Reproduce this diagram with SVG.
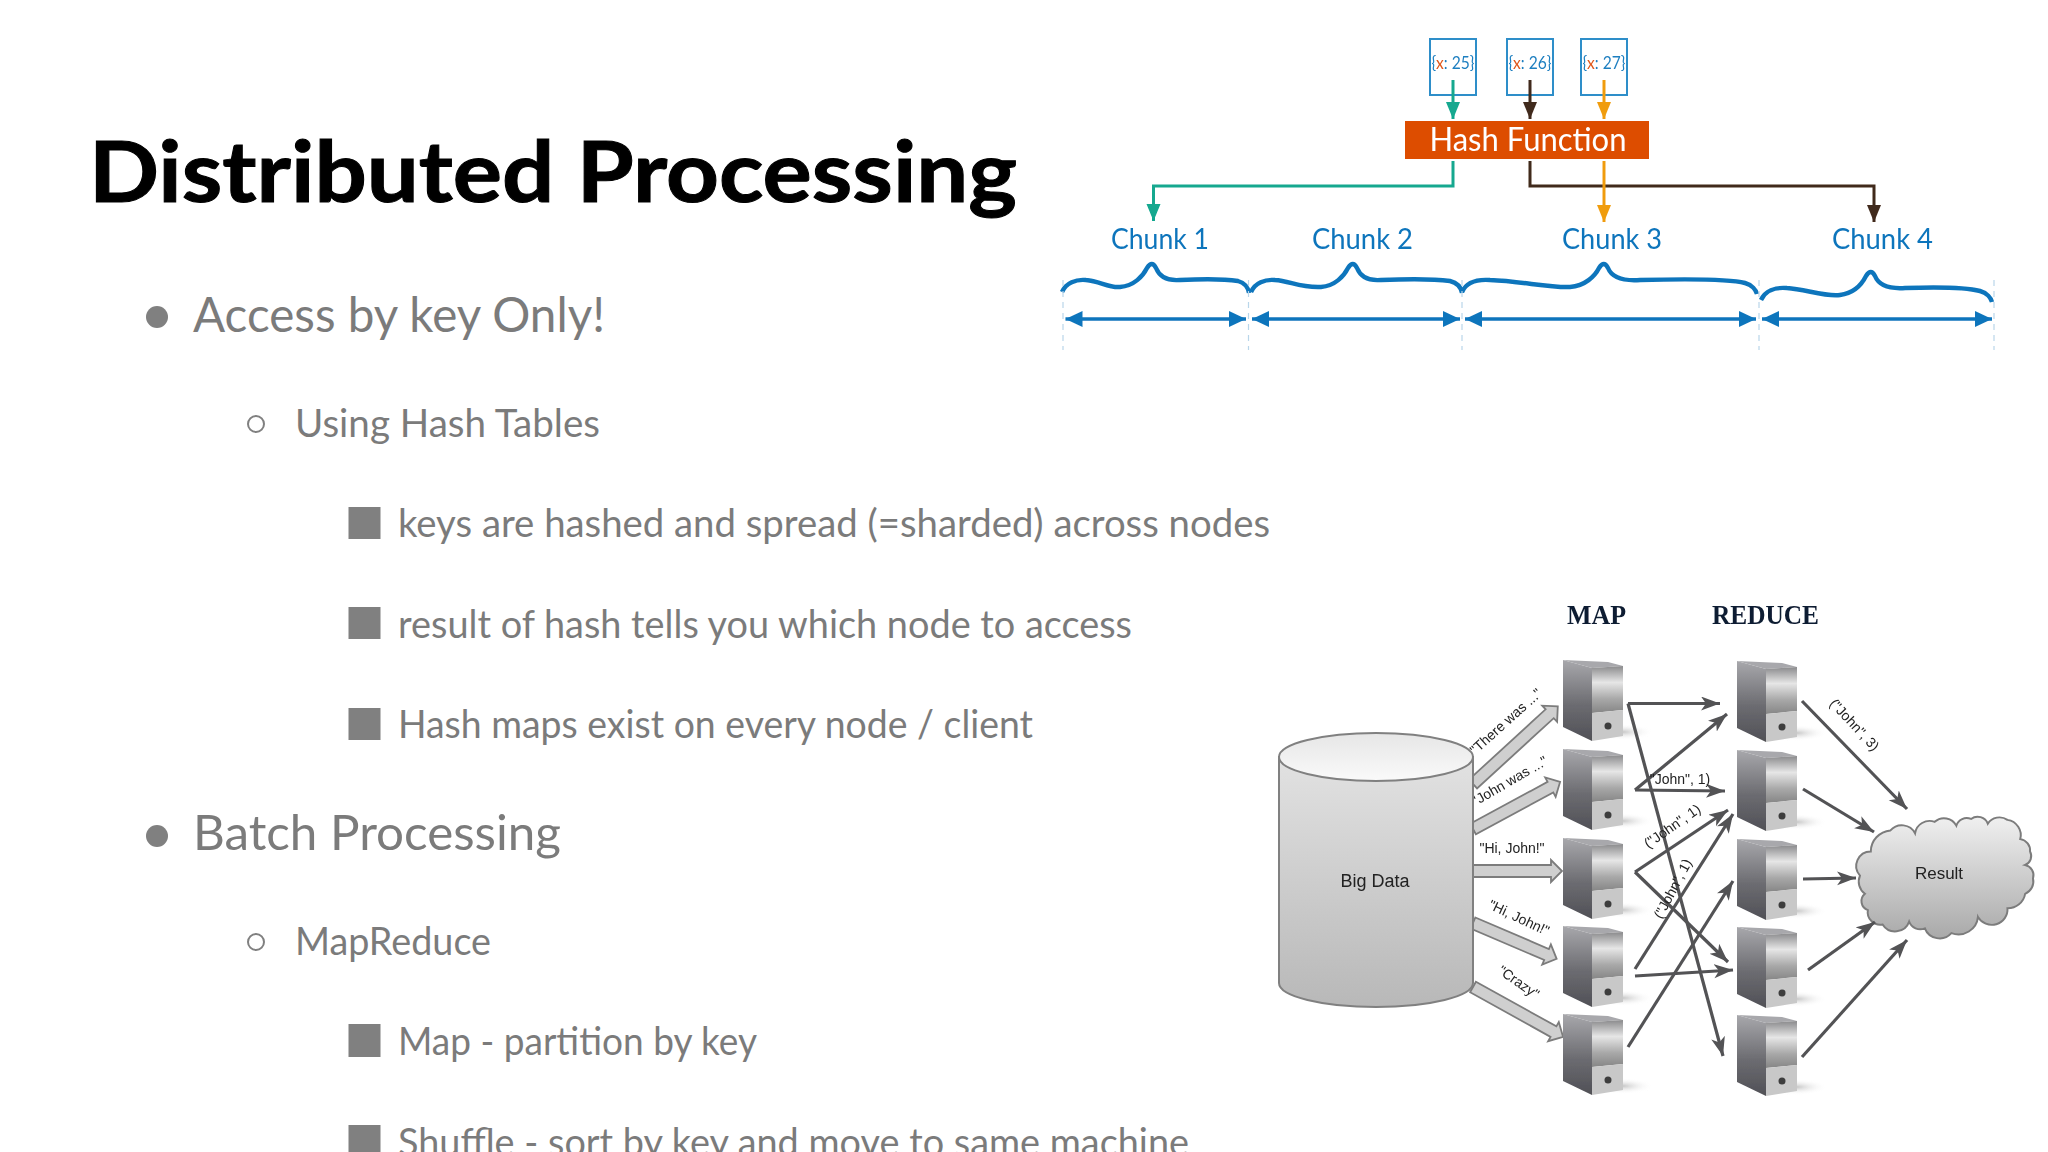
<svg xmlns="http://www.w3.org/2000/svg" width="2048" height="1152" viewBox="0 0 2048 1152">
<style>
text{font-family:"Lato","Liberation Sans",sans-serif}
.title{font-size:85px;font-weight:700;fill:#000;stroke:#000;stroke-width:1}
.l1{font-size:48px;fill:#7b7b7b}
.l2{font-size:38px;fill:#7b7b7b}
.dot{fill:#808080}
.hol{fill:none;stroke:#808080;stroke-width:2}
.sq{fill:#808080}
.kbox{fill:#fff;stroke:#2f8ec9;stroke-width:2}
.ktxt{font-size:17px;fill:#1f7fc0}
.kx{fill:#e0571a}
.chunk{font-size:29px;fill:#0f75bc}
.brace{fill:none;stroke:#0f75bc;stroke-width:4.4}
.span{fill:none;stroke:#0f75bc;stroke-width:3.4;marker-start:url(#mB);marker-end:url(#mB)}
.dash{stroke:#b9d6ea;stroke-width:1.2;stroke-dasharray:6 5}
.teal{fill:none;stroke:#12a88f;stroke-width:3;marker-end:url(#mT)}
.brown{fill:none;stroke:#41291c;stroke-width:3;marker-end:url(#mK)}
.gold{fill:none;stroke:#f09c0f;stroke-width:3;marker-end:url(#mO)}
.flow{fill:none;stroke:#525255;stroke-width:3.2;marker-end:url(#mG)}
.blk{fill:#cfcfcf;stroke:#7c7c7c;stroke-width:1.8}
.tiny{font-family:"Liberation Sans",sans-serif;font-size:14px;fill:#222;text-anchor:middle}
.head{font-family:"Liberation Serif",serif;font-size:27px;font-weight:700;fill:#0e1c32}
.soft{filter:url(#sf)}
.softer{filter:url(#sg)}
</style>
<defs>
<filter id="sf" x="-5%" y="-5%" width="110%" height="110%"><feGaussianBlur stdDeviation="0.6"/></filter>
<filter id="sg" x="-5%" y="-5%" width="110%" height="110%"><feGaussianBlur stdDeviation="0.7"/></filter>
<marker id="mT" markerUnits="userSpaceOnUse" markerWidth="18" markerHeight="15" refX="17" refY="7" orient="auto"><path d="M0 0L17 7L0 14z" fill="#12a88f"/></marker>
<marker id="mK" markerUnits="userSpaceOnUse" markerWidth="18" markerHeight="15" refX="17" refY="7" orient="auto"><path d="M0 0L17 7L0 14z" fill="#41291c"/></marker>
<marker id="mO" markerUnits="userSpaceOnUse" markerWidth="18" markerHeight="15" refX="17" refY="7" orient="auto"><path d="M0 0L17 7L0 14z" fill="#f09c0f"/></marker>
<marker id="mB" markerUnits="userSpaceOnUse" markerWidth="18" markerHeight="17" refX="17" refY="8" orient="auto-start-reverse"><path d="M0 0L17 8L0 16z" fill="#0f75bc"/></marker>
<marker id="mG" markerUnits="userSpaceOnUse" markerWidth="20" markerHeight="16" refX="19" refY="7" orient="auto"><path d="M0 0L19 7L0 14L5 7z" fill="#525255"/></marker>
<linearGradient id="cyl" x1="0" y1="0" x2="0" y2="1"><stop offset="0" stop-color="#e2e2e2"/><stop offset="1" stop-color="#b8b8b8"/></linearGradient>
<linearGradient id="cylt" x1="0" y1="0" x2="0" y2="1"><stop offset="0" stop-color="#e6e6e6"/><stop offset="1" stop-color="#fafafa"/></linearGradient>
<linearGradient id="cloud" x1="0" y1="0" x2="0" y2="1"><stop offset="0" stop-color="#f0f0f0"/><stop offset="1" stop-color="#a9a9a9"/></linearGradient>
<linearGradient id="srvL" x1="0" y1="0" x2="0" y2="1"><stop offset="0" stop-color="#a8a8ac"/><stop offset="0.55" stop-color="#6c6c71"/><stop offset="1" stop-color="#505056"/></linearGradient>
<linearGradient id="srvR" x1="0" y1="0" x2="0" y2="1"><stop offset="0" stop-color="#8a8a8c"/><stop offset="0.35" stop-color="#e6e6e6"/><stop offset="0.7" stop-color="#a8a8a8"/><stop offset="1" stop-color="#868686"/></linearGradient>
<radialGradient id="srvS"><stop offset="0" stop-color="#c8c8c8"/><stop offset="1" stop-color="#fff" stop-opacity="0"/></radialGradient>
<symbol id="server" width="90" height="90" viewBox="0 0 90 90" overflow="visible">
<ellipse cx="60" cy="72" rx="30" ry="8" fill="url(#srvS)"/>
<path d="M0 0L45 2L60 6L29 8z" fill="#a8a8ac"/>
<path d="M0 0L29 8V81L0 67z" fill="url(#srvL)"/>
<path d="M29 8L60 6V50L29 53z" fill="url(#srvR)"/>
<path d="M29 53L60 50V76L29 81z" fill="#c8c8c8"/>
<circle cx="45" cy="66" r="3.500" fill="#3c3c3c"/>
</symbol>
</defs>
<rect width="2048" height="1152" fill="#fff"/>
<g id="slide-title"><text class="title" x="89" y="202" textLength="928" lengthAdjust="spacingAndGlyphs">Distributed Processing</text></g>
<g id="slide-bullets">
<circle class="dot" cx="157" cy="317" r="11"/>
<text class="l1" x="193" y="332" textLength="412" lengthAdjust="spacingAndGlyphs">Access by key Only!</text>
<circle class="hol" cx="256" cy="424" r="8"/>
<text class="l2" x="295" y="437" textLength="305" lengthAdjust="spacingAndGlyphs">Using Hash Tables</text>
<rect class="sq" x="348.500" y="507" width="32" height="32"/>
<text class="l2" x="398" y="537" textLength="872" lengthAdjust="spacingAndGlyphs">keys are hashed and spread (=sharded) across nodes</text>
<rect class="sq" x="348.500" y="607" width="32" height="32"/>
<text class="l2" x="398" y="638" textLength="734" lengthAdjust="spacingAndGlyphs">result of hash tells you which node to access</text>
<rect class="sq" x="348.500" y="708" width="32" height="32"/>
<text class="l2" x="398" y="738" textLength="635" lengthAdjust="spacingAndGlyphs">Hash maps exist on every node / client</text>
<circle class="dot" cx="157" cy="836" r="11"/>
<text class="l1" x="193" y="850" textLength="368" lengthAdjust="spacingAndGlyphs">Batch Processing</text>
<circle class="hol" cx="256" cy="942" r="8"/>
<text class="l2" x="295" y="955" textLength="196" lengthAdjust="spacingAndGlyphs">MapReduce</text>
<rect class="sq" x="348.500" y="1024" width="32" height="33"/>
<text class="l2" x="398" y="1055" textLength="359" lengthAdjust="spacingAndGlyphs">Map - partition by key</text>
<rect class="sq" x="348.500" y="1125" width="32" height="33"/>
<text class="l2" x="398" y="1156" textLength="791" lengthAdjust="spacingAndGlyphs">Shuffle - sort by key and move to same machine</text>
</g>
<g id="hash-diagram" class="soft">
<g id="key-25"><rect class="kbox" x="1430" y="39" width="46" height="56"/><text class="ktxt" x="1453" y="69" text-anchor="middle" textLength="43" lengthAdjust="spacingAndGlyphs">{<tspan class="kx">x</tspan>: 25}</text></g>
<g id="key-26"><rect class="kbox" x="1507" y="39" width="46" height="56"/><text class="ktxt" x="1530" y="69" text-anchor="middle" textLength="43" lengthAdjust="spacingAndGlyphs">{<tspan class="kx">x</tspan>: 26}</text></g>
<g id="key-27"><rect class="kbox" x="1581" y="39" width="46" height="56"/><text class="ktxt" x="1604" y="69" text-anchor="middle" textLength="43" lengthAdjust="spacingAndGlyphs">{<tspan class="kx">x</tspan>: 27}</text></g>
<g id="hash-function"><rect x="1405" y="121" width="244" height="38" fill="#dd4e05"/><text x="1528" y="151" font-size="33" fill="#fff" text-anchor="middle" textLength="197" lengthAdjust="spacingAndGlyphs">Hash Function</text></g>
<g id="chunk-1"><text class="chunk" x="1111" y="249" textLength="98" lengthAdjust="spacingAndGlyphs">Chunk 1</text><path class="brace" d="M1062 292C1066 283 1076 279 1086 280C1100 281 1108 288 1120 287C1134 286 1143 276 1147 268Q1152 260 1156 268C1160 278 1168 281 1180 280C1200 279 1225 279 1238 281C1245 283 1248 287 1249 293"/></g>
<g id="chunk-2"><text class="chunk" x="1312" y="249" textLength="101" lengthAdjust="spacingAndGlyphs">Chunk 2</text><path class="brace" d="M1251 292C1255 283 1265 279 1275 280C1290 281 1300 288 1321 287C1335 286 1344 276 1348 268Q1353 260 1357 268C1361 278 1369 281 1381 280C1405 279 1435 279 1450 281C1458 283 1461 287 1462 293"/></g>
<g id="chunk-3"><text class="chunk" x="1562" y="249" textLength="100" lengthAdjust="spacingAndGlyphs">Chunk 3</text><path class="brace" d="M1462 292C1466 283 1476 279 1490 280C1520 281 1550 288 1570 287C1585 286 1595 276 1599 268Q1604 260 1608 268C1612 278 1625 281 1640 280C1680 279 1730 279 1745 283C1752 285 1756 290 1757 294"/></g>
<g id="chunk-4"><text class="chunk" x="1832" y="249" textLength="101" lengthAdjust="spacingAndGlyphs">Chunk 4</text><path class="brace" d="M1761 300C1765 291 1775 287 1787 288C1805 289 1825 297 1840 295C1855 293 1862 284 1866 276Q1871 268 1875 276C1879 286 1890 289 1905 288C1935 287 1965 287 1980 291C1987 293 1991 298 1992 302"/></g>
<g id="hash-connectors">
<path class="teal" d="M1453 80V119"/><path class="brown" d="M1530 80V119"/><path class="gold" d="M1604 80V119"/>
<path class="teal" d="M1453 161V186H1153.500V221"/>
<path class="brown" d="M1530 161V186H1874V222"/>
<path class="gold" d="M1604 161V222"/>
<path class="dash" d="M1063 280V350M1248.500 280V350M1462 280V350M1759 280V350M1994 280V350"/>
<path class="span" d="M1065.500 319H1246"/><path class="span" d="M1252 319H1460"/><path class="span" d="M1465 319H1756"/><path class="span" d="M1762 319H1992"/>
</g>
</g>
<g id="mapreduce-diagram" class="softer">
<g id="input-arrows">
<polygon class="blk" transform="translate(1473 784) rotate(-42.500)" points="0,-6 104,-6 104,-11 115,0 104,11 104,6 0,6"/>
<polygon class="blk" transform="translate(1473 829) rotate(-28.400)" points="0,-6 88,-6 88,-11 99,0 88,11 88,6 0,6"/>
<polygon class="blk" transform="translate(1473 871)" points="0,-6 78,-6 78,-11 89,0 78,11 78,6 0,6"/>
<polygon class="blk" transform="translate(1473 923) rotate(23.200)" points="0,-6 80,-6 80,-11 91,0 80,11 80,6 0,6"/>
<polygon class="blk" transform="translate(1473 987) rotate(29)" points="0,-6 92,-6 92,-11 103,0 92,11 92,6 0,6"/>
<text class="tiny" transform="translate(1509 725) rotate(-42)">"There was ..."</text>
<text class="tiny" transform="translate(1512 785) rotate(-30)">"John was ..."</text>
<text class="tiny" transform="translate(1512 853)">"Hi, John!"</text>
<text class="tiny" transform="translate(1517 922) rotate(25)">"Hi, John!"</text>
<text class="tiny" transform="translate(1516 986) rotate(35)">"Crazy"</text>
</g>
<g id="big-data">
<path d="M1279 757V983A97 24 0 0 0 1473 983V757z" fill="url(#cyl)" stroke="#808080" stroke-width="2"/>
<ellipse cx="1376" cy="757" rx="97" ry="24" fill="url(#cylt)" stroke="#808080" stroke-width="2"/>
<text x="1375" y="887" font-size="18" fill="#222" text-anchor="middle" style="font-family:'Liberation Sans',sans-serif">Big Data</text>
</g>
<text class="head" id="map-heading" x="1567" y="624" textLength="59" lengthAdjust="spacingAndGlyphs">MAP</text>
<text class="head" id="reduce-heading" x="1712" y="624" textLength="107" lengthAdjust="spacingAndGlyphs">REDUCE</text>
<g id="map-1"><use href="#server" x="1563" y="660"/></g>
<g id="map-2"><use href="#server" x="1563" y="749"/></g>
<g id="map-3"><use href="#server" x="1563" y="838"/></g>
<g id="map-4"><use href="#server" x="1563" y="926"/></g>
<g id="map-5"><use href="#server" x="1563" y="1014"/></g>
<g id="reduce-1"><use href="#server" x="1737" y="661"/></g>
<g id="reduce-2"><use href="#server" x="1737" y="750"/></g>
<g id="reduce-3"><use href="#server" x="1737" y="839"/></g>
<g id="reduce-4"><use href="#server" x="1737" y="927"/></g>
<g id="reduce-5"><use href="#server" x="1737" y="1015"/></g>
<g id="result">
<path transform="translate(2033 817) scale(.983 .96) translate(-2033 -817)" d="M1862 897A16 16 0 0 1 1857 878A15 15 0 0 1 1868 853A22 22 0 0 1 1888 831A15 15 0 0 1 1913 834A15 15 0 0 1 1933 822A14 14 0 0 1 1955 826A11 11 0 0 1 1970 819A11 11 0 0 1 1987 824A14 14 0 0 1 2007 820A16 16 0 0 1 2020 840A12 12 0 0 1 2030 853A10 10 0 0 1 2025 867A11 11 0 0 1 2033 881A14 14 0 0 1 2025 897A18 18 0 0 1 2007 912A16 16 0 0 1 1977 921A20 20 0 0 1 1950 938A16 16 0 0 1 1923 933A12 12 0 0 1 1907 926A15 15 0 0 1 1880 929A13 13 0 0 1 1865 914A10 10 0 0 1 1862 897z" fill="url(#cloud)" stroke="#7c7c7c" stroke-width="2"/>
<text x="1939" y="879" style="font-family:'Liberation Sans',sans-serif" font-size="17" fill="#222" text-anchor="middle">Result</text>
</g>
<g id="flow-connectors">
<path class="flow" d="M1628 703.500H1720"/>
<path class="flow" d="M1628 703.500L1723 1056"/>
<path class="flow" d="M1635 790L1727 714"/>
<path class="flow" d="M1635 790L1725 791"/>
<path class="flow" d="M1635 872L1728 810"/>
<path class="flow" d="M1635 872L1728 962"/>
<path class="flow" d="M1635 969L1733 814"/>
<path class="flow" d="M1635 976L1733 970"/>
<path class="flow" d="M1628 1047L1733 881"/>
<path class="flow" d="M1802 701L1907 809"/>
<path class="flow" d="M1803 789L1874 832"/>
<path class="flow" d="M1803 879L1856 878"/>
<path class="flow" d="M1808 970L1875 922"/>
<path class="flow" d="M1802 1057L1907 940"/>
<text class="tiny" transform="translate(1680 784)">"John", 1)</text>
<text class="tiny" transform="translate(1675 830) rotate(-35)">("John", 1)</text>
<text class="tiny" transform="translate(1677 891) rotate(-62)">("John", 1)</text>
<text class="tiny" transform="translate(1851 728) rotate(47)">("John", 3)</text>
</g>
</g>
</svg>
